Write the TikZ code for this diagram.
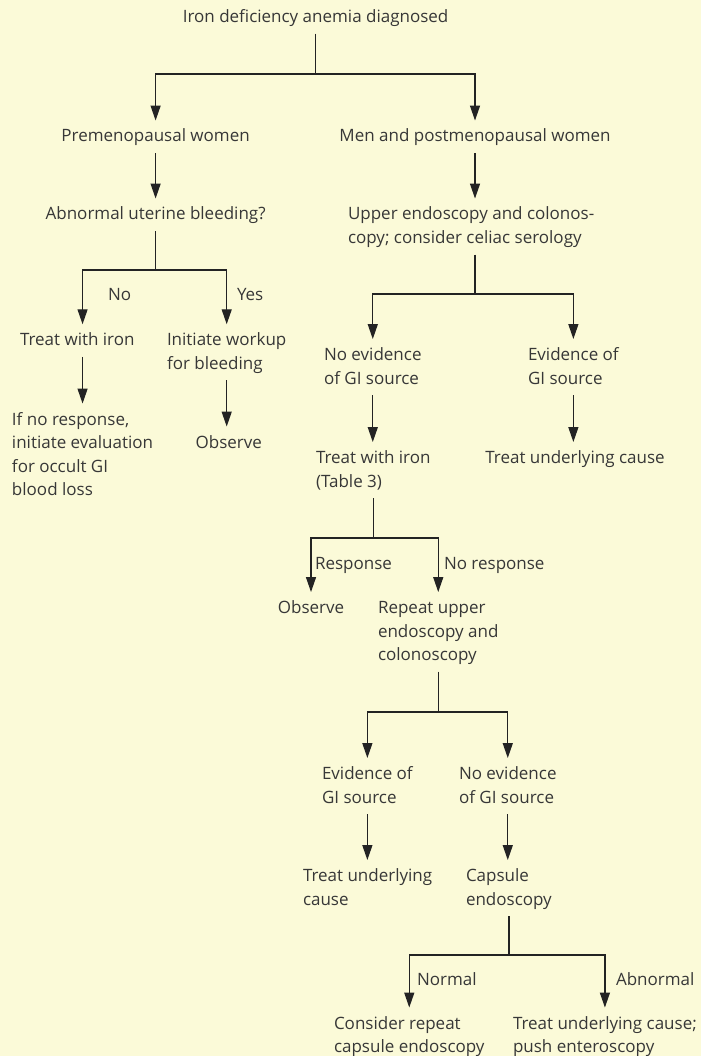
\documentclass[tikz,border=0pt]{standalone}
\usepackage{fontspec}
\setmainfont{Open Sans}
\usetikzlibrary{arrows.meta}
\definecolor{bg}{RGB}{251,250,216}
\definecolor{ink}{RGB}{55,55,55}
\definecolor{wirec}{RGB}{35,35,35}
\newcommand\ml[1]{\begin{tabular}[t]{@{}l@{}}#1\end{tabular}}
\begin{document}
\begin{tikzpicture}[x=1pt,y=-1pt,
  txt/.style={inner sep=0pt, outer sep=0pt, text=ink, font=\fontsize{17}{23.5}\selectfont},
  wire/.style={draw=wirec, line width=1.3pt},
  arr/.style={wire, -{Triangle[width=10pt,length=15pt]}, shorten >=5pt},
  stem/.style={wire, shorten <=4pt}]
\useasboundingbox (0,0) rectangle (701,1056);
\fill[bg] (0,0) rectangle (701,1056);

% nodes
\node[txt, anchor=base] (title) at (315.6,22.5) {\ml{Iron deficiency anemia diagnosed}};
\node[txt, anchor=base] (pre) at (155.6,142) {\ml{Premenopausal women}};
\node[txt, anchor=base] (men) at (475,142) {\ml{Men and postmenopausal women}};
\node[txt, anchor=base] (abn) at (155.6,220) {\ml{Abnormal uterine bleeding?}};
\node[txt, anchor=base west] (upper) at (348,220) {\ml{Upper endoscopy and colonos-\\copy; consider celiac serology}};
\node[txt, anchor=base west] (twi) at (20,345.7) {\ml{Treat with iron}};
\node[txt, anchor=base west] (iwb) at (167,345.7) {\ml{Initiate workup\\for bleeding}};
\node[txt, anchor=base west] (inr) at (12,425) {\ml{If no response,\\initiate evaluation\\for occult GI\\blood loss}};
\node[txt, anchor=base] (obsL) at (228.8,448) {\ml{Observe}};
\node[txt, anchor=base west] (noev1) at (324,360.5) {\ml{No evidence\\of GI source}};
\node[txt, anchor=base west] (ev1) at (528,360.5) {\ml{Evidence of\\GI source}};
\node[txt, anchor=base west] (twi2) at (316,463.5) {\ml{Treat with iron\\(Table 3)}};
\node[txt, anchor=base] (tuc1) at (575,463.5) {\ml{Treat underlying cause}};
\node[txt, anchor=base] (obs2) at (311,613.5) {\ml{Observe}};
\node[txt, anchor=base west] (rep) at (378,613.5) {\ml{Repeat upper\\endoscopy and\\colonoscopy}};
\node[txt, anchor=base west] (ev2) at (322,779.5) {\ml{Evidence of\\GI source}};
\node[txt, anchor=base west] (noev2) at (459,779.5) {\ml{No evidence\\of GI source}};
\node[txt, anchor=base west] (tuc2) at (303,881.5) {\ml{Treat underlying\\cause}};
\node[txt, anchor=base west] (cap) at (466,881.5) {\ml{Capsule\\endoscopy}};
\node[txt, anchor=base west] (crc) at (334,1029) {\ml{Consider repeat\\capsule endoscopy}};
\node[txt, anchor=base west] (tuc3) at (513,1029) {\ml{Treat underlying cause;\\push enteroscopy}};

% branch labels
\node[txt, anchor=base west] (lno) at (108,300.7) {No};
\node[txt, anchor=base west] (lyes) at (237,300.7) {Yes};
\node[txt, anchor=base west] (lresp) at (315,569.5) {Response};
\node[txt, anchor=base west] (lnoresp) at (444,569.5) {No response};
\node[txt, anchor=base west] (lnorm) at (417,985.5) {Normal};
\node[txt, anchor=base west] (labn) at (616,985.5) {Abnormal};

% bar levels
\coordinate (y1) at (0,74);
\coordinate (y2) at (0,270);
\coordinate (y3) at (0,294);
\coordinate (y4) at (0,538);
\coordinate (y5) at (0,712);
\coordinate (y6) at (0,955);

% connectors
\draw[stem] (title.south) -- (title.south |- y1) coordinate (j1);
\draw[arr] (j1) -| (pre.north);
\draw[arr] (j1) -| (men.north);

\draw[arr, shorten <=4pt] (pre.south) -- (pre.south |- abn.north);
\draw[arr, shorten <=4pt] (men.south) -- (men.south |- upper.north);

\draw[stem] (abn.south) -- (abn.south |- y2) coordinate (j2);
\draw[arr] (j2) -| (twi.north -| inr.north);
\draw[arr] (j2) -| (iwb.north);
\draw[arr, shorten <=4pt] (twi.south -| inr.north) -- (inr.north);
\draw[arr, shorten <=4pt] (iwb.south) -- (iwb.south |- obsL.north);

\draw[stem] (upper.south -| men.south) -- (men.south |- y3) coordinate (j3);
\draw[arr] (j3) -| (noev1.north);
\draw[arr] (j3) -| (ev1.north);
\draw[arr, shorten <=4pt] (noev1.south) -- (noev1.south |- twi2.north);
\draw[arr, shorten <=4pt] (ev1.south) -- (ev1.south |- tuc1.north);

\draw[stem] (twi2.south) -- (twi2.south |- y4) coordinate (j4);
\draw[arr] (j4) -| (obs2.north);
\draw[arr] (j4) -| (rep.north);

\draw[stem] (rep.south) -- (rep.south |- y5) coordinate (j5);
\draw[arr] (j5) -| (ev2.north);
\draw[arr] (j5) -| (noev2.north);
\draw[arr, shorten <=4pt] (ev2.south) -- (ev2.south |- tuc2.north);
\draw[arr, shorten <=4pt] (noev2.south) -- (noev2.south |- cap.north);

\draw[stem] (cap.south) -- (cap.south |- y6) coordinate (j6);
\draw[arr] (j6) -| (crc.north);
\draw[arr] (j6) -| (tuc3.north);
\end{tikzpicture}
\end{document}
